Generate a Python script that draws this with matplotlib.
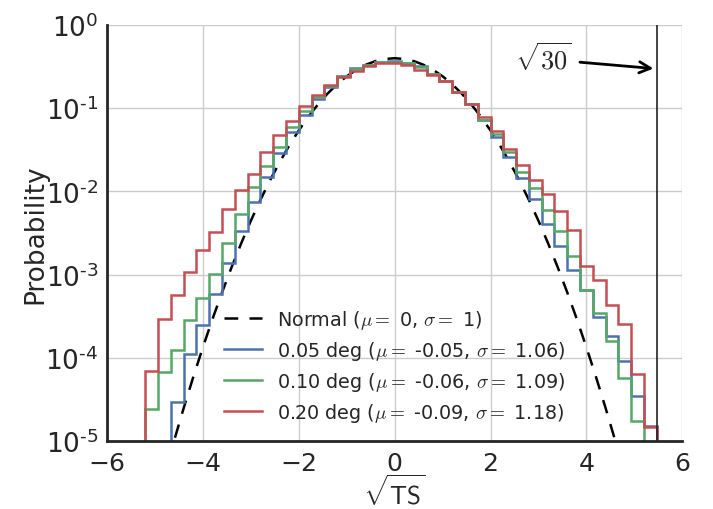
import numpy as np
import matplotlib
matplotlib.use("Agg")
import matplotlib.pyplot as plt
from matplotlib.lines import Line2D

plt.rcParams['font.family'] = ['DejaVu Sans']
plt.rcParams['mathtext.fontset'] = 'cm'
plt.rcParams['text.color'] = '#262626'
plt.rcParams['axes.labelcolor'] = '#262626'
plt.rcParams['xtick.color'] = '#262626'
plt.rcParams['ytick.color'] = '#262626'

# histogram bins in sqrt(TS)
bin_edges = np.linspace(-6, 6, 46)

# probability per bin
p_005 = [0, 0, 0, 0, 0, 2.95e-5, 1.12e-4, 2.51e-4, 5.9e-4, 1.38e-3,
         3.31e-3, 7.4e-3, 0.0151, 0.0290, 0.0514, 0.0837, 0.129, 0.178, 0.247, 0.305,
         0.334, 0.359, 0.367, 0.352, 0.318, 0.258, 0.211, 0.156, 0.113, 0.0731,
         0.0449, 0.0258, 0.01456, 0.00815, 0.00408, 0.00224, 0.001146, 6.47e-4, 3.10e-4, 1.82e-4,
         9.2e-5, 3.49e-5, 1.51e-5, 0, 0]
p_010 = [0, 0, 0, 2.45e-5, 6.76e-5, 1.26e-4, 2.82e-4, 5.25e-4, 1.02e-3, 2.40e-3,
         5.37e-3, 0.0112, 0.0200, 0.0339, 0.0589, 0.0918, 0.138, 0.185, 0.242, 0.296,
         0.331, 0.356, 0.363, 0.350, 0.316, 0.258, 0.211, 0.156, 0.113, 0.0731,
         0.0492, 0.0296, 0.0170, 0.0110, 0.00601, 0.00333, 0.00167, 6.47e-4, 3.49e-4, 1.60e-4,
         5.78e-5, 1.75e-5, 0, 0, 0]
p_020 = [0, 0, 0, 6.89e-5, 2.90e-4, 5.74e-4, 1.09e-3, 1.99e-3, 3.24e-3, 6.18e-3,
         0.01035, 0.01626, 0.0296, 0.0478, 0.0710, 0.1057, 0.146, 0.191, 0.240, 0.283,
         0.325, 0.347, 0.353, 0.331, 0.288, 0.251, 0.211, 0.156, 0.113, 0.0780,
         0.0540, 0.0324, 0.0208, 0.0139, 0.00927, 0.00590, 0.00346, 0.00129, 8.69e-4, 4.27e-4,
         2.58e-4, 6.46e-5, 1.48e-5, 0, 0]

# reference normal curve (mu=0, sigma=1)
norm_x = [-5.0, -4.8, -4.6, -4.4, -4.2, -4.0, -3.8, -3.6, -3.4, -3.2, -3.0, -2.8, -2.6,
          -2.4, -2.2, -2.0, -1.8, -1.6, -1.4, -1.2, -1.0, -0.8, -0.6, -0.4, -0.2, 0.0,
          0.2, 0.4, 0.6, 0.8, 1.0, 1.2, 1.4, 1.6, 1.8, 2.0, 2.2, 2.4, 2.6, 2.8, 3.0,
          3.2, 3.4, 3.6, 3.8, 4.0, 4.2, 4.4, 4.6, 4.8, 5.0]
norm_y = [1.487e-6, 3.961e-6, 1.014e-5, 2.494e-5, 5.894e-5, 1.338e-4, 2.919e-4, 6.119e-4,
          1.232e-3, 2.384e-3, 4.432e-3, 7.915e-3, 0.01358, 0.02239, 0.03547, 0.05399,
          0.07895, 0.1109, 0.1497, 0.1942, 0.2420, 0.2897, 0.3332, 0.3683, 0.3910, 0.3989,
          0.3910, 0.3683, 0.3332, 0.2897, 0.2420, 0.1942, 0.1497, 0.1109, 0.07895, 0.05399,
          0.03547, 0.02239, 0.01358, 7.915e-3, 4.432e-3, 2.384e-3, 1.232e-3, 6.119e-4,
          2.919e-4, 1.338e-4, 5.894e-5, 2.494e-5, 1.014e-5, 3.961e-6, 1.487e-6]

labels = [r'Normal ($\mu=$ 0, $\sigma=$ 1)',
          r'0.05 deg ($\mu=$ -0.05, $\sigma=$ 1.06)',
          r'0.10 deg ($\mu=$ -0.06, $\sigma=$ 1.09)',
          r'0.20 deg ($\mu=$ -0.09, $\sigma=$ 1.18)']
colors = ['#4C72B0', '#55A868', '#C44E52']
ts_limit = np.sqrt(30)

fig = plt.figure(figsize=(7.13, 5.10), dpi=100)
ax = fig.add_axes([0.150, 0.133, 0.807, 0.816])

norm_line, = ax.plot(norm_x, norm_y, color='black', lw=1.8, dashes=(5.5, 4.5))

centers = 0.5 * (bin_edges[1:] + bin_edges[:-1])
for vals, c in zip([p_005, p_010, p_020], colors):
    ax.hist(centers, bins=bin_edges, weights=vals, histtype='step',
            color=c, lw=1.8, log=True)

ax.axvline(ts_limit, color='#222222', lw=1.2)
ax.annotate(r'$\sqrt{30}$', xy=(ts_limit - 0.08, 0.30), xytext=(3.1, 0.39),
            fontsize=19, ha='center', va='center',
            arrowprops=dict(arrowstyle='->', lw=2, color='black',
                            mutation_scale=20, shrinkA=4, shrinkB=0))


def log_label(v, pos):
    # hyphen-style exponent as in the reference
    return r'$\mathdefault{10^{%s}}$' % ('\u2010%d' % -np.log10(v) if v < 1 else '0')


ax.set_xlim(-6, 6)
ax.set_ylim(1e-5, 1)
ax.set_xticks([-6, -4, -2, 0, 2, 4, 6])
ax.set_yticks([1e-5, 1e-4, 1e-3, 1e-2, 1e-1, 1])
ax.yaxis.set_major_formatter(plt.FuncFormatter(log_label))
ax.grid(True, color='#cccccc', lw=1)
ax.set_axisbelow(True)
ax.tick_params(length=0, labelsize=18, pad=7)
ax.tick_params(axis='y', labelsize=19, pad=6)
ax.minorticks_off()
for s in ['top', 'right']:
    ax.spines[s].set_visible(False)
for s in ['left', 'bottom']:
    ax.spines[s].set_color('#262626')
    ax.spines[s].set_linewidth(2)

ax.set_xlabel(r'$\sqrt{\mathsf{TS}}$', fontsize=18, labelpad=-1)
ax.set_ylabel('Probability', fontsize=19, labelpad=-2)

handles = [norm_line] + [Line2D([], [], color=c, lw=1.8) for c in colors]
ax.legend(handles, labels, loc='lower center', frameon=False, fontsize=13.8,
          labelspacing=0.42)

fig.savefig('out.png', dpi=100)
